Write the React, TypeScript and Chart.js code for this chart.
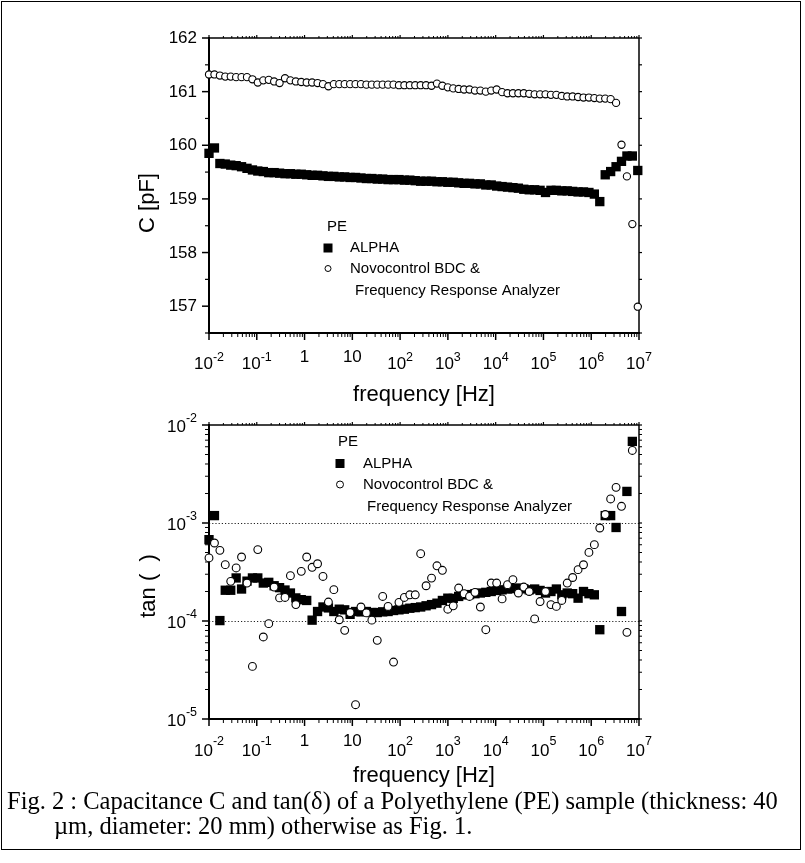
import React, { useEffect, useRef } from "react";
import { Chart, registerables } from "chart.js";

Chart.register(...registerables);

// ---------------- data ----------------
const freqHz = [
  0.01, 0.013, 0.0169, 0.0219, 0.0285, 0.037, 0.048, 0.0624, 0.0811, 0.105,
  0.137, 0.178, 0.231, 0.3, 0.39, 0.506, 0.657, 0.854, 1.109, 1.44,
  1.871, 2.43, 3.157, 4.101, 5.326, 6.918, 8.987, 11.67, 15.16, 19.7,
  25.59, 33.24, 43.17, 56.08, 72.86, 94.62, 122.9, 159.7, 207.4, 269.4,
  349.9, 454.6, 590.5, 767.0, 996.3, 1294, 1681, 2184, 2837, 3685,
  4786, 6218, 8077, 10490, 13630, 17700, 22990, 29870, 38800, 50400,
  65460, 85040, 110500, 143500, 186400, 242100, 314500, 408600, 530800, 689500,
  895400, 1163000, 1511000, 1963000, 2550000, 3311000, 4301000, 5587000, 7257000, 9428000,
];

const capAlpha = [
  159.85, 159.95, 159.66, 159.65, 159.63, 159.62, 159.6, 159.57, 159.54, 159.52,
  159.51, 159.49, 159.49, 159.48, 159.47, 159.47, 159.46, 159.46, 159.45, 159.44,
  159.44, 159.43, 159.42, 159.42, 159.41, 159.41, 159.4, 159.4, 159.39, 159.38,
  159.38, 159.37, 159.37, 159.36, 159.36, 159.36, 159.35, 159.35, 159.34, 159.33,
  159.33, 159.33, 159.32, 159.32, 159.31, 159.31, 159.3, 159.29, 159.29, 159.28,
  159.28, 159.26, 159.26, 159.24, 159.23, 159.22, 159.21, 159.2, 159.18, 159.17,
  159.17, 159.16, 159.12, 159.16, 159.16, 159.15, 159.15, 159.14, 159.13, 159.13,
  159.12, 159.09, 158.95, 159.45, 159.51, 159.6, 159.7, 159.8, 159.8, 159.53,
];

const capNovo = [
  161.32, 161.32, 161.3, 161.28, 161.28, 161.27, 161.27, 161.27, 161.23, 161.17,
  161.21, 161.22, 161.19, 161.16, 161.25, 161.21, 161.19, 161.18, 161.17, 161.17,
  161.16, 161.14, 161.1, 161.14, 161.14, 161.14, 161.14, 161.14, 161.14, 161.13,
  161.13, 161.13, 161.13, 161.13, 161.13, 161.12, 161.12, 161.12, 161.12, 161.12,
  161.12, 161.11, 161.15, 161.11, 161.08, 161.06, 161.05, 161.04, 161.04, 161.02,
  161.02, 161.0, 161.02, 161.04, 160.99, 160.97, 160.97, 160.97, 160.97, 160.96,
  160.95, 160.95, 160.95, 160.94, 160.94, 160.92, 160.91, 160.91, 160.9, 160.89,
  160.89, 160.88, 160.87, 160.87, 160.86, 160.79, 160.01, 159.42, 158.53, 156.99,
];

const tanAlpha: (number | null)[] = [
  6.76e-4, 1.19e-3, 1.01e-4, 2.06e-4, 2.06e-4, 2.75e-4, 2.12e-4, 2.55e-4, 2.75e-4, 2.75e-4,
  2.44e-4, 2.48e-4, 2.29e-4, 2.19e-4, 2.07e-4, 1.93e-4, 1.72e-4, 1.65e-4, 1.62e-4, 1.02e-4,
  1.25e-4, 1.39e-4, 1.36e-4, 1.25e-4, 1.32e-4, 1.3e-4, 1.17e-4, 1.25e-4, 1.24e-4, 1.25e-4,
  1.22e-4, 1.22e-4, 1.24e-4, 1.25e-4, 1.28e-4, 1.3e-4, 1.32e-4, 1.35e-4, 1.37e-4, 1.39e-4,
  1.43e-4, 1.47e-4, 1.52e-4, 1.62e-4, 1.71e-4, 1.7e-4, 1.78e-4, 1.85e-4, 1.86e-4, 1.9e-4,
  1.93e-4, 1.96e-4, 2.0e-4, 2.05e-4, 2.08e-4, 2.12e-4, 2.14e-4, 2.17e-4, 2.13e-4, 2.08e-4,
  2.12e-4, 2.05e-4, 1.93e-4, 2.0e-4, 2.12e-4, 1.85e-4, 1.93e-4, 1.9e-4, 1.71e-4, 2.0e-4,
  1.9e-4, 1.85e-4, 8.15e-5, 1.19e-3, 1.19e-3, 9.0e-4, 1.25e-4, 2.1e-3, 6.8e-3, null,
];

const tanNovo: (number | null)[] = [
  4.4e-4, 6.25e-4, 5.26e-4, 3.76e-4, 2.54e-4, 3.48e-4, 4.5e-4, 2.44e-4, 3.44e-5, 5.35e-4,
  6.87e-5, 9.4e-5, 2.22e-4, 1.72e-4, 1.74e-4, 2.9e-4, 1.47e-4, 3.21e-4, 4.5e-4, 3.53e-4,
  3.84e-4, 2.85e-4, 1.56e-4, 2.09e-4, 1.03e-4, 8.03e-5, 1.22e-4, 1.4e-5, 1.39e-4, 1.21e-4,
  1.02e-4, 6.35e-5, 1.78e-4, 1.41e-4, 3.81e-5, 1.55e-4, 1.74e-4, 1.85e-4, 1.85e-4, 4.86e-4,
  2.29e-4, 2.74e-4, 3.66e-4, 3.29e-4, 1.32e-4, 1.43e-4, 2.17e-4, 1.9e-4, 1.78e-4, 1.96e-4,
  1.39e-4, 8.15e-5, 2.44e-4, 2.44e-4, 1.68e-4, 2.35e-4, 2.64e-4, 1.93e-4, 2.22e-4, 2.0e-4,
  1.05e-4, 1.58e-4, 2.0e-4, 1.47e-4, 1.41e-4, 1.62e-4, 2.44e-4, 2.78e-4, 3.34e-4, 3.75e-4,
  5.01e-4, 6.01e-4, 8.89e-4, 1.22e-3, 1.76e-3, 2.31e-3, 1.48e-3, 7.66e-5, 5.5e-3, null,
];

const xTickValues = [1e-2, 1e-1, 1, 10, 1e2, 1e3, 1e4, 1e5, 1e6, 1e7];
const xTickLabels = ["10^-2", "10^-1", "1", "10", "10^2", "10^3", "10^4", "10^5", "10^6", "10^7"];
const capTickValues = [157, 158, 159, 160, 161, 162];
const capTickLabels = ["157", "158", "159", "160", "161", "162"];
const tanTickValues = [1e-5, 1e-4, 1e-3, 1e-2];
const tanTickLabels = ["10^-5", "10^-4", "10^-3", "10^-2"];
const tanGridValues = [1e-4, 1e-3];

const legendTitle = "PE";
const seriesNames = ["ALPHA", "Novocontrol BDC & Frequency Response Analyzer"];
const legendLines = ["ALPHA", "Novocontrol BDC &", "Frequency Response Analyzer"];
const xTitle = "frequency [Hz]";
const capTitle = "C [pF]";
const tanTitle = "tan (  )";
const captionLines = [
  "Fig. 2 : Capacitance C and tan(\u03b4) of a Polyethylene (PE) sample (thickness: 40",
  "\u00b5m, diameter: 20 mm) otherwise as Fig. 1.",
];

// ---------------- layout ----------------
const W = 805;
const H = 863;
const PLOT_LEFT = 209;
const PLOT_RIGHT = 639;
const TOP_AREA = { top: 38, bottom: 333 };
const BOT_AREA = { top: 425, bottom: 719 };
const SANS = "Arial, 'Liberation Sans', Helvetica, sans-serif";
const SERIF = "'Times New Roman', 'Liberation Serif', Times, serif";

function pts(xs: number[], ys: (number | null)[]) {
  const out: { x: number; y: number }[] = [];
  for (let i = 0; i < xs.length; i++) {
    const v = ys[i];
    if (v !== null && v !== undefined) out.push({ x: xs[i], y: v });
  }
  return out;
}

function line(ctx: CanvasRenderingContext2D, x1: number, y1: number, x2: number, y2: number, lw: number) {
  ctx.lineWidth = lw;
  ctx.beginPath();
  ctx.moveTo(x1, y1);
  ctx.lineTo(x2, y2);
  ctx.stroke();
}

function drawFrame(ctx: CanvasRenderingContext2D, a: any) {
  ctx.strokeStyle = "#000";
  ctx.lineCap = "butt";
  line(ctx, a.left, a.top - 1, a.left, a.bottom + 1, 2);
  line(ctx, a.left - 1, a.bottom, a.right + 1, a.bottom, 2);
  line(ctx, a.left, a.top, a.right, a.top, 1.5);
  line(ctx, a.right, a.top, a.right, a.bottom, 1.5);
}

function drawXTicks(ctx: CanvasRenderingContext2D, xs: any, a: any) {
  xTickValues.forEach((v) => {
    const px = xs.getPixelForValue(v);
    line(ctx, px, a.bottom, px, a.bottom + 7, 1.5);
    line(ctx, px, a.top, px, a.top - 3, 1.2);
  });
  for (let d = -2; d < 7; d++) {
    for (let m = 2; m <= 9; m++) {
      const px = xs.getPixelForValue(m * Math.pow(10, d));
      line(ctx, px, a.bottom, px, a.bottom + 4, 1);
      line(ctx, px, a.top, px, a.top - 2, 1);
    }
  }
}

function drawPow(
  ctx: CanvasRenderingContext2D,
  label: string,
  x: number,
  align: "center" | "right",
  baseBaseline: number,
  supBaseline: number,
  plainBaseline: number
) {
  const parts = label.split("^");
  const b = parts[0];
  const s = parts[1];
  ctx.textAlign = "left";
  ctx.textBaseline = "alphabetic";
  ctx.fillStyle = "#000";
  ctx.font = `17px ${SANS}`;
  const wb = ctx.measureText(b).width;
  if (s === undefined) {
    const sx = align === "center" ? x - wb / 2 : x - wb;
    ctx.fillText(b, sx, plainBaseline);
    return;
  }
  ctx.font = `12.5px ${SANS}`;
  const ws = ctx.measureText(s).width;
  const tot = wb + ws;
  const sx = align === "center" ? x - tot / 2 : x - tot;
  ctx.font = `17px ${SANS}`;
  ctx.fillText(b, sx, baseBaseline);
  ctx.font = `12.5px ${SANS}`;
  ctx.fillText(s, sx + wb, supBaseline);
}

function drawTitles(ctx: CanvasRenderingContext2D, yTitle: string, cx: number, cy: number, xBaseline: number) {
  ctx.save();
  ctx.fillStyle = "#000";
  ctx.font = `22px ${SANS}`;
  ctx.textAlign = "center";
  ctx.textBaseline = "alphabetic";
  ctx.fillText(xTitle, (PLOT_LEFT + PLOT_RIGHT) / 2, xBaseline);
  ctx.translate(cx, cy);
  ctx.rotate(-Math.PI / 2);
  ctx.textBaseline = "middle";
  ctx.fillText(yTitle, 0, 0);
  ctx.restore();
}

type LegendSpec = {
  peX: number; peY: number;
  markX: number; alphaY: number; novoY: number;
  textX: number; contX: number; contY: number;
  circR: number;
};

function drawLegend(ctx: CanvasRenderingContext2D, L: LegendSpec) {
  ctx.save();
  ctx.fillStyle = "#000";
  ctx.font = `15px ${SANS}`;
  ctx.textAlign = "left";
  ctx.textBaseline = "middle";
  ctx.fillText(legendTitle, L.peX, L.peY);
  const s = 9;
  ctx.fillRect(L.markX - s / 2, L.alphaY - s / 2, s, s);
  ctx.fillText(legendLines[0], L.textX, L.alphaY);
  ctx.beginPath();
  ctx.arc(L.markX, L.novoY, L.circR, 0, Math.PI * 2);
  ctx.fillStyle = "#fff";
  ctx.fill();
  ctx.strokeStyle = "#000";
  ctx.lineWidth = 1;
  ctx.stroke();
  ctx.fillStyle = "#000";
  ctx.fillText(legendLines[1], L.textX, L.novoY);
  ctx.fillText(legendLines[2], L.contX, L.contY);
  ctx.restore();
}

const topPlugin = {
  id: "topAxes",
  beforeDatasetsDraw(chart: any) {
    const { ctx, chartArea: a, scales } = chart;
    const xs = scales.x;
    const ys = scales.y;
    ctx.save();
    drawFrame(ctx, a);
    drawXTicks(ctx, xs, a);
    capTickValues.forEach((v) => {
      const py = ys.getPixelForValue(v);
      line(ctx, a.left, py, a.left - 7, py, 1.5);
      line(ctx, a.right, py, a.right + 3, py, 1.2);
      const pm = ys.getPixelForValue(v - 0.5);
      line(ctx, a.left, pm, a.left - 4, pm, 1.2);
      line(ctx, a.right, pm, a.right + 3, pm, 1.2);
    });
    ctx.restore();
  },
  afterDraw(chart: any) {
    const { ctx, scales } = chart;
    const xs = scales.x;
    const ys = scales.y;
    ctx.save();
    xTickLabels.forEach((lab, i) => {
      drawPow(ctx, lab, xs.getPixelForValue(xTickValues[i]), "center", 369, 361, 362);
    });
    ctx.font = `17px ${SANS}`;
    ctx.textAlign = "right";
    ctx.textBaseline = "middle";
    capTickLabels.forEach((lab, i) => {
      ctx.fillText(lab, 197, ys.getPixelForValue(capTickValues[i]) + 0.5);
    });
    ctx.restore();
    drawTitles(ctx, capTitle, 148, 203, 401);
    drawLegend(ctx, {
      peX: 327, peY: 227, markX: 328, alphaY: 248, novoY: 268.5,
      textX: 350, contX: 355, contY: 291, circR: 3,
    });
  },
};

const botPlugin = {
  id: "botAxes",
  beforeDatasetsDraw(chart: any) {
    const { ctx, chartArea: a, scales } = chart;
    const xs = scales.x;
    const ys = scales.y;
    ctx.save();
    ctx.strokeStyle = "#222";
    ctx.setLineDash([1.2, 2]);
    tanGridValues.forEach((v) => {
      const py = Math.round(ys.getPixelForValue(v)) + 0.5;
      line(ctx, a.left, py, a.right, py, 1);
    });
    ctx.setLineDash([]);
    drawFrame(ctx, a);
    drawXTicks(ctx, xs, a);
    tanTickValues.forEach((v) => {
      const py = ys.getPixelForValue(v);
      line(ctx, a.left, py, a.left - 7, py, 1.5);
      line(ctx, a.right, py, a.right + 3, py, 1.2);
    });
    for (let d = -5; d < -2; d++) {
      for (let m = 2; m <= 9; m++) {
        const py = ys.getPixelForValue(m * Math.pow(10, d));
        line(ctx, a.left, py, a.left - 4, py, 1);
        line(ctx, a.right, py, a.right + 3, py, 1);
      }
    }
    ctx.restore();
  },
  afterDraw(chart: any) {
    const { ctx, scales } = chart;
    const xs = scales.x;
    const ys = scales.y;
    ctx.save();
    xTickLabels.forEach((lab, i) => {
      drawPow(ctx, lab, xs.getPixelForValue(xTickValues[i]), "center", 756, 745, 746);
    });
    tanTickLabels.forEach((lab, i) => {
      const py = ys.getPixelForValue(tanTickValues[i]);
      drawPow(ctx, lab, 197, "right", py + 6.5, py - 3.5, py + 6.5);
    });
    ctx.restore();
    drawTitles(ctx, tanTitle, 149, 586, 782);
    drawLegend(ctx, {
      peX: 338, peY: 442, markX: 340, alphaY: 463.5, novoY: 484.5,
      textX: 363, contX: 367, contY: 507, circR: 3.5,
    });
  },
};

function makeConfig(
  area: { top: number; bottom: number },
  yScale: any,
  alphaData: { x: number; y: number }[],
  novoData: { x: number; y: number }[],
  circR: number,
  plugin: any
): any {
  return {
    type: "scatter",
    data: {
      datasets: [
        {
          label: seriesNames[1],
          data: novoData,
          showLine: false,
          pointStyle: "circle",
          pointRadius: circR,
          pointBackgroundColor: "#fff",
          pointBorderColor: "#000",
          pointBorderWidth: 1.1,
          backgroundColor: "#fff",
          borderColor: "#000",
          order: 0,
          clip: false,
        },
        {
          label: seriesNames[0],
          data: alphaData,
          showLine: false,
          pointStyle: "rect",
          pointRadius: 6.6,
          pointBackgroundColor: "#000",
          pointBorderColor: "#000",
          pointBorderWidth: 0,
          backgroundColor: "#000",
          borderColor: "#000",
          order: 1,
          clip: false,
        },
      ],
    },
    options: {
      responsive: false,
      animation: false,
      devicePixelRatio: 1,
      events: [],
      layout: {
        autoPadding: false,
        padding: { left: PLOT_LEFT, right: W - PLOT_RIGHT, top: area.top, bottom: H - area.bottom },
      },
      plugins: { legend: { display: false }, tooltip: { enabled: false }, title: { display: false } },
      scales: {
        x: { type: "logarithmic", min: 1e-2, max: 1e7, display: false },
        y: yScale,
      },
    },
    plugins: [plugin],
  };
}

export default function App() {
  const topRef = useRef<HTMLCanvasElement>(null);
  const botRef = useRef<HTMLCanvasElement>(null);

  useEffect(() => {
    const c1 = new Chart(
      topRef.current as HTMLCanvasElement,
      makeConfig(
        TOP_AREA,
        { type: "linear", min: 156.5, max: 162, display: false },
        pts(freqHz, capAlpha),
        pts(freqHz, capNovo),
        3.6,
        topPlugin
      )
    );
    const c2 = new Chart(
      botRef.current as HTMLCanvasElement,
      makeConfig(
        BOT_AREA,
        { type: "logarithmic", min: 1e-5, max: 1e-2, display: false },
        pts(freqHz, tanAlpha),
        pts(freqHz, tanNovo),
        3.9,
        botPlugin
      )
    );
    return () => {
      c1.destroy();
      c2.destroy();
    };
  }, []);

  const capStyle: React.CSSProperties = {
    position: "absolute",
    font: `24.5px ${SERIF}`,
    lineHeight: "24px",
    whiteSpace: "nowrap",
    color: "#000",
  };

  return (
    <div style={{ position: "absolute", left: 0, top: 0, width: W, height: H, background: "#fff", overflow: "hidden" }}>
      <div
        style={{
          position: "absolute",
          left: 1,
          top: 1,
          width: 800,
          height: 849,
          border: "1.5px solid #000",
          boxSizing: "border-box",
        }}
      />
      <canvas ref={topRef} width={W} height={H} style={{ position: "absolute", left: 0, top: 0 }} />
      <canvas ref={botRef} width={W} height={H} style={{ position: "absolute", left: 0, top: 0 }} />
      <div style={{ ...capStyle, left: 7, top: 809 - 20 }}>{captionLines[0]}</div>
      <div style={{ ...capStyle, left: 54, top: 834 - 20 }}>{captionLines[1]}</div>
    </div>
  );
}
